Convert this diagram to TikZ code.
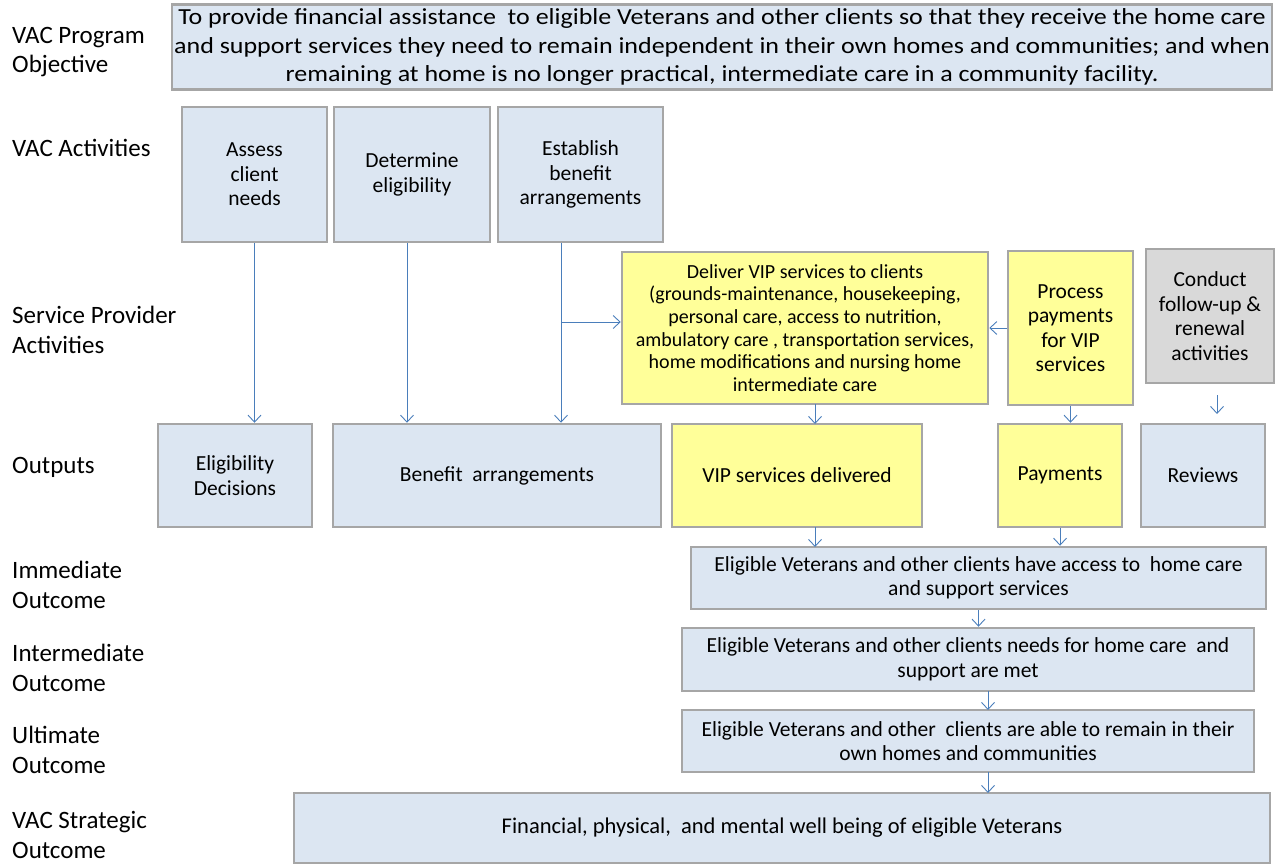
\documentclass[tikz,border=0pt]{standalone}
\usepackage{fontspec}
\setmainfont{Carlito}
\newfontfamily\objfont[FakeStretch=1.13]{Carlito}
\usetikzlibrary{arrows.meta}

\definecolor{boxblue}{HTML}{DCE6F2}
\definecolor{boxyellow}{HTML}{FFFF99}
\definecolor{boxgray}{HTML}{D9D9D9}
\definecolor{edgegray}{HTML}{A6A6A6}
\definecolor{linkblue}{HTML}{4A7EBB}

\begin{document}
\begin{tikzpicture}[x=1pt, y=-1pt, every node/.style = {shape=rectangle, align=center, inner sep=0pt}, box/.style = {draw=edgegray, line width=2.5pt, fill=boxblue, font=\fontsize{21.5}{24.5}\selectfont}, ybox/.style = {box, fill=boxyellow}, gbox/.style = {box, fill=boxgray}, lbl/.style = {anchor=west, align=left, font=\fontsize{25}{29.5}\selectfont}, link/.style = {draw=linkblue, line width=0.9pt, -{Straight Barb[length=7pt,width=13pt]}}]
\useasboundingbox (0,0) rectangle (1276,865);

% row labels
\node[lbl] (lobj) at (12,52) {VAC Program\\Objective};
\node[lbl] (lact) at (12,148) {VAC Activities};
\node[lbl] (lsp) at (12,330) {Service Provider\\Activities};
\node[lbl] (lout) at (12,467) {Outputs};
\node[lbl] (limm) at (12,585) {Immediate\\Outcome};
\node[lbl] (lint) at (12,668) {Intermediate\\Outcome};
\node[lbl] (lult) at (12,750) {Ultimate\\Outcome};
\node[lbl] (lstr) at (12,835) {VAC Strategic\\Outcome};

% objective and activities
\node[box, minimum width=1100, minimum height=85, font=\objfont\fontsize{23}{28.5}\selectfont] (objective) at (722,47) {To provide financial assistance\ \ to eligible Veterans and other clients so that they receive the home care\\and support services they need to remain independent in their own homes and communities; and when\\remaining at home is no longer practical, intermediate care in a community facility.};
\node[box, minimum width=145, minimum height=135] (assess) at (254.5,174.5) {Assess\\client\\needs};
\node[box, minimum width=156, minimum height=135] (determine) at (412,174.5) {Determine\\eligibility};
\node[box, minimum width=165, minimum height=135] (establish) at (580.5,174.5) {Establish\\benefit\\arrangements};

% service provider activities
\node[ybox, minimum width=366, minimum height=152, font=\fontsize{20}{22.6}\selectfont] (deliver) at (805,328) {Deliver VIP services to clients\\(grounds-maintenance, housekeeping,\\personal care, access to nutrition,\\ambulatory care , transportation services,\\home modifications and nursing home\\intermediate care};
\node[ybox, minimum width=125, minimum height=154] (process) at (1070.5,328) {Process\\payments\\for VIP\\services};
\node[gbox, minimum width=128, minimum height=134] (conduct) at (1210,316) {Conduct\\follow-up \&\\renewal\\activities};

% outputs
\node[box, minimum width=154, minimum height=103] (decisions) at (235,475.5) {Eligibility\\Decisions};
\node[box, minimum width=328, minimum height=103] (benefit) at (497,475.5) {Benefit\ \ arrangements};
\node[ybox, minimum width=250, minimum height=103] (vip) at (797,475.5) {VIP services delivered};
\node[ybox, minimum width=124, minimum height=103] (payments) at (1060,475.5) {Payments};
\node[box, minimum width=124, minimum height=103] (reviews) at (1203,475.5) {Reviews};

% outcomes
\node[box, minimum width=575, minimum height=62] (immediate) at (978.5,578) {Eligible Veterans and other clients have access to\ \ home care\\and support services};
\node[box, minimum width=572, minimum height=63] (intermediate) at (968,659.5) {Eligible Veterans and other clients needs for home care\ \ and\\support are met};
\node[box, minimum width=572, minimum height=62] (ultimate) at (968,741) {Eligible Veterans and other\ \ clients are able to remain in their\\own homes and communities};
\node[box, minimum width=976, minimum height=70, font=\fontsize{22.5}{26}\selectfont] (strategic) at (782,828) {Financial, physical,\ \ and mental well being of eligible Veterans};

% connectors
\coordinate (ebr) at (561,322);
\coordinate (rtop) at (1217,395);
\coordinate (rend) at (1217,414);
\draw[link] (assess.south) -- (assess.south |- decisions.north);
\draw[link] ([xshift=-5pt]determine.south) -- ([xshift=-5pt]determine.south |- benefit.north);
\draw[link] (ebr |- establish.south) -- (ebr |- benefit.north);
\draw[link] (ebr) -- (ebr -| deliver.west);
\draw[link] (process.west) -- (deliver.east);
\draw[link] (815,404) -- (815,424);
\draw[link] (process.south) -- (process.south |- payments.north);
\draw[link] (rtop) -- (rend);
\draw[link] (815,527) -- (815,547);
\draw[link] (payments.south) -- (payments.south |- immediate.north);
\draw[link] (immediate.south) -- (immediate.south |- intermediate.north);
\draw[link] (988,691) -- (988,710);
\draw[link] (988,772) -- (988,793);
\end{tikzpicture}
\end{document}
